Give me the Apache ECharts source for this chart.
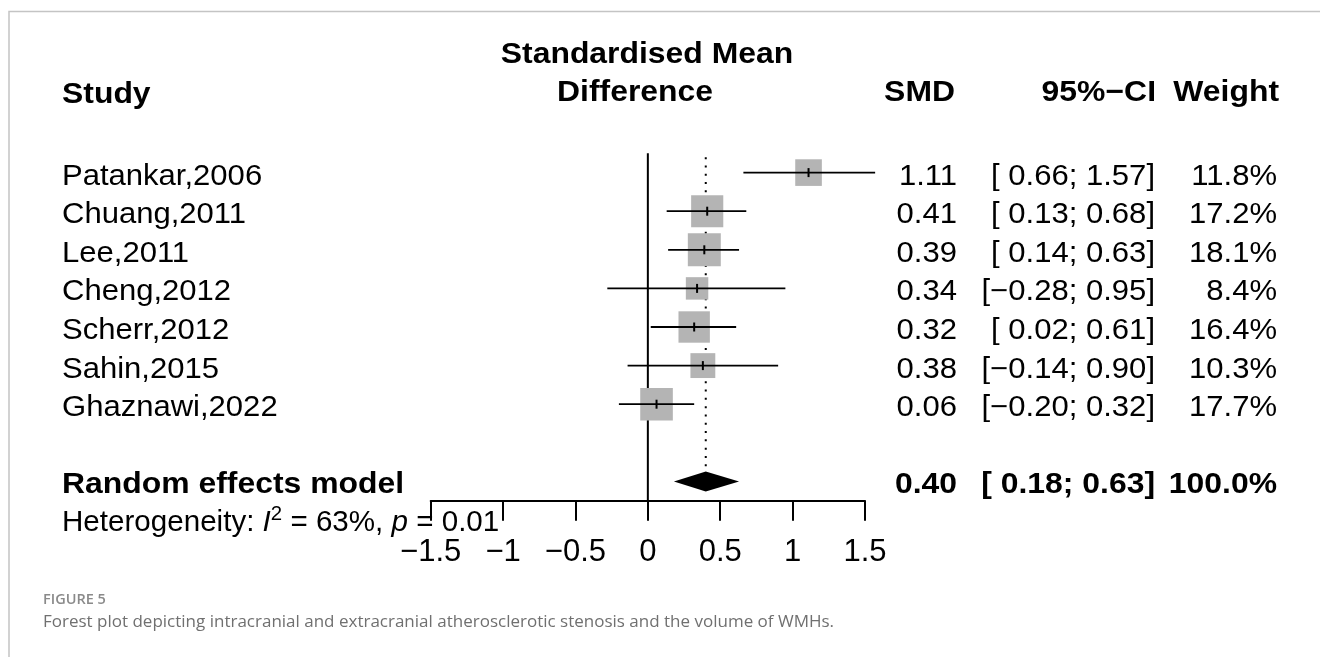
<!DOCTYPE html>
<html>
<head>
<meta charset="utf-8">
<script src="https://cdn.jsdelivr.net/npm/echarts@6/dist/echarts.min.js"></script>
<style>
  html, body { margin: 0; padding: 0; background: #fff; }
  #chartDom { width: 1320px; height: 657px; }
</style>
</head>
<body>
<div id="chartDom"></div>
<script>
// study data
const studies = ['Patankar,2006', 'Chuang,2011', 'Lee,2011', 'Cheng,2012', 'Scherr,2012', 'Sahin,2015', 'Ghaznawi,2022'];
const smd = [1.11, 0.41, 0.39, 0.34, 0.32, 0.38, 0.06];
const ciLower = [0.66, 0.13, 0.14, -0.28, 0.02, -0.14, -0.20];
const ciUpper = [1.57, 0.68, 0.63, 0.95, 0.61, 0.90, 0.32];
const weights = [11.8, 17.2, 18.1, 8.4, 16.4, 10.3, 17.7];
// random effects model
const pooledSmd = 0.40;
const pooledLower = 0.18;
const pooledUpper = 0.63;
const pooledWeight = 100.0;
const hetI2 = 63;
const hetP = '0.01';
const xTicks = [-1.5, -1, -0.5, 0, 0.5, 1, 1.5];

const FONT = "'Liberation Sans', Arial, Helvetica, sans-serif";
const FS = 29;      // table font size
const SX = 1.07;    // the figure is a little wider than tall
const SXB = 1.1;
const pooledRow = studies.length + 1;
const hetRow = pooledRow + 1;

// column anchors (px)
const colStudy = 62, colSmd = 957, colCi = 1155, colW = 1277;

function num(v) {
  return v < 0 ? '\u2212' + Math.abs(v).toFixed(2) : v.toFixed(2);
}
function ciText(lo, hi) {
  const a = lo < 0 ? num(lo) : ' ' + num(lo);
  return '[' + a + '; ' + num(hi) + ']';
}
function txt(text, x, y, align, bold) {
  return {
    type: 'text', x: x, y: y, scaleX: bold ? SXB : SX,
    style: {
      text: text, fill: '#000', align: align, verticalAlign: 'middle',
      font: (bold ? 'bold ' : '') + FS + 'px ' + FONT,
    },
  };
}

const chart = echarts.init(document.getElementById('chartDom'));

const studyData = studies.map((s, i) => [ciLower[i], ciUpper[i], smd[i], weights[i], i]);

const options = {
  animation: false,
  backgroundColor: '#fff',
  textStyle: { fontFamily: FONT },
  grid: { left: 430.7, right: 455, top: 153.3, bottom: 156.3, containLabel: false },
  xAxis: {
    type: 'value', min: xTicks[0], max: xTicks[xTicks.length - 1], interval: 0.5,
    splitLine: { show: false },
    axisLine: { show: true, onZero: false, lineStyle: { color: '#000', width: 2 } },
    axisTick: { show: true, length: 20, lineStyle: { color: '#000', width: 2 } },
    axisLabel: {
      color: '#000', fontSize: 31, fontFamily: FONT, margin: 36,
      formatter: v => (v < 0 ? '\u2212' + Math.abs(v) : String(v)),
    },
  },
  yAxis: {
    type: 'value', inverse: true, min: -0.5, max: pooledRow + 0.5, show: false,
  },
  graphic: [
    // figure frame (top & left)
    { type: 'polyline', shape: { points: [[9, 657], [9, 11.5], [1320, 11.5]] },
      style: { stroke: '#c4c4c4', lineWidth: 1.5, fill: null }, silent: true },
    // headers
    txt('Study', colStudy, 95, 'left', true),
    txt('Standardised Mean', 647, 55, 'center', true),
    txt('Difference', 635, 93, 'center', true),
    txt('SMD', 955, 93, 'right', true),
    txt('95%\u2212CI', 1156, 93, 'right', true),
    txt('Weight', 1279, 93, 'right', true),
    // caption
    { type: 'text', x: 43, y: 600,
      style: { text: 'FIGURE 5', fill: '#8a8a8a', font: "600 14.5px 'Open Sans', sans-serif", verticalAlign: 'middle' } },
    { type: 'text', x: 43, y: 622,
      style: { text: 'Forest plot depicting intracranial and extracranial atherosclerotic stenosis and the volume of WMHs.',
               fill: '#707070', font: "17px 'Open Sans', sans-serif", verticalAlign: 'middle' } },
  ],
  series: [
    {
      // line of no effect + pooled estimate reference
      type: 'custom', name: 'ref', silent: true,
      data: [[pooledSmd]],
      renderItem: function (params, api) {
        const z0 = api.coord([0, -0.5]);
        const z1 = api.coord([0, pooledRow + 0.5]);
        const d0 = api.coord([api.value(0), -0.4]);
        const d1 = api.coord([api.value(0), pooledRow]);
        return {
          type: 'group',
          children: [
            { type: 'line', shape: { x1: z0[0], y1: z0[1], x2: z1[0], y2: z1[1] },
              style: { stroke: '#000', lineWidth: 2 } },
            { type: 'line', shape: { x1: d0[0], y1: d0[1], x2: d1[0], y2: d1[1] - 12 },
              style: { stroke: '#000', lineWidth: 2, lineDash: [2, 6.3] } },
          ],
        };
      },
    },
    {
      type: 'custom', name: 'studies', silent: true,
      data: studyData,
      renderItem: function (params, api) {
        const i = params.dataIndex;
        const row = api.value(4);
        const lo = api.coord([api.value(0), row]);
        const hi = api.coord([api.value(1), row]);
        const c = api.coord([api.value(2), row]);
        const side = 7.75 * Math.sqrt(api.value(3));
        const ty = c[1] + 4;
        return {
          type: 'group',
          children: [
            { type: 'rect', shape: { x: c[0] - side / 2, y: c[1] - side / 2, width: side, height: side },
              style: { fill: '#b4b4b4' } },
            { type: 'line', shape: { x1: lo[0], y1: lo[1], x2: hi[0], y2: hi[1] },
              style: { stroke: '#000', lineWidth: 1.8 } },
            { type: 'line', shape: { x1: c[0], y1: c[1] - 4.5, x2: c[0], y2: c[1] + 4.5 },
              style: { stroke: '#000', lineWidth: 2 } },
            txt(studies[i], colStudy, ty, 'left', false),
            txt(num(smd[i]), colSmd, ty, 'right', false),
            txt(ciText(ciLower[i], ciUpper[i]), colCi, ty, 'right', false),
            txt(weights[i].toFixed(1) + '%', colW, ty, 'right', false),
          ],
        };
      },
    },
    {
      type: 'custom', name: 'pooled', silent: true,
      data: [[pooledLower, pooledUpper, pooledSmd, pooledRow]],
      renderItem: function (params, api) {
        const row = api.value(3);
        const lo = api.coord([api.value(0), row]);
        const hi = api.coord([api.value(1), row]);
        const c = api.coord([api.value(2), row]);
        const h = 10;
        const ty = c[1] + 4;
        const het = api.coord([0, hetRow]);
        return {
          type: 'group',
          children: [
            { type: 'polygon', shape: { points: [[lo[0], lo[1]], [c[0], c[1] - h], [hi[0], hi[1]], [c[0], c[1] + h]] },
              style: { fill: '#000' } },
            txt('Random effects model', colStudy, ty, 'left', true),
            txt(num(pooledSmd), colSmd, ty, 'right', true),
            txt(ciText(pooledLower, pooledUpper), colCi, ty, 'right', true),
            txt(pooledWeight.toFixed(1) + '%', colW, ty, 'right', true),
            {
              type: 'text', x: colStudy, y: het[1] + 3, scaleX: 1.02,
              style: {
                text: 'Heterogeneity: {i|I}{sup|2} = ' + hetI2 + '%, {i|p} = ' + hetP,
                fill: '#000', font: FS + 'px ' + FONT, align: 'left', verticalAlign: 'middle',
                rich: {
                  i: { fontStyle: 'italic', fontSize: FS, fontFamily: FONT, fill: '#000' },
                  sup: { fontSize: 20, fontFamily: FONT, fill: '#000', padding: [0, 0, 18, 0] },
                },
              },
            },
          ],
        };
      },
    },
  ],
};

chart.setOption(options);
window.onresize = function () {
  chart.resize();
};
</script>
</body>
</html>
